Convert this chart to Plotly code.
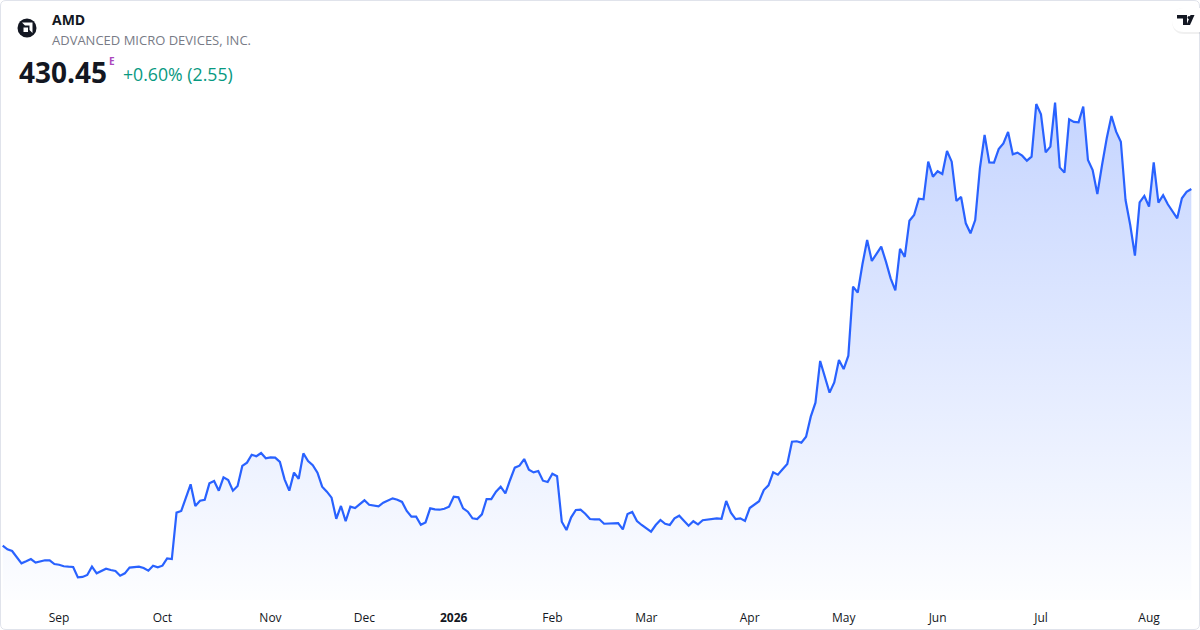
import plotly.graph_objects as go

# AMD daily closes (approx), one per trading day
close = [
    173.6, 171.0, 169.8, 165.5, 160.9, 162.4, 164.0, 161.4, 162.1, 163.1,
    163.1, 160.4, 159.9, 158.8, 158.5, 158.3, 150.8, 151.1, 152.5, 158.5,
    153.7, 155.4, 157.0, 156.1, 155.4, 152.0, 153.7, 157.8, 158.3, 158.5,
    157.5, 155.6, 159.2, 158.0, 159.2, 164.5, 164.0, 197.4, 198.6, 208.9,
    217.8, 202.2, 206.0, 206.7, 218.5, 220.2, 213.2, 222.8, 220.9, 213.2,
    216.6, 231.0, 233.4, 239.1, 238.0, 240.3, 236.5, 237.2, 237.0, 233.9,
    221.4, 213.2, 226.2, 221.8, 240.1, 234.6, 231.5, 226.2, 216.1, 212.5,
    208.2, 193.0, 202.2, 191.2, 201.7, 200.7, 203.6, 206.3, 203.1, 202.7,
    202.0, 204.6, 206.3, 207.7, 206.7, 205.1, 198.6, 194.5, 194.5, 188.7,
    190.4, 200.5, 199.8, 199.5, 200.2, 201.7, 208.9, 208.4, 200.5, 198.1,
    193.3, 192.8, 196.2, 207.2, 207.2, 212.5, 216.1, 211.3, 220.9, 229.8,
    231.2, 236.0, 228.3, 226.4, 227.4, 220.4, 219.5, 225.4, 223.6, 190.9,
    184.9, 194.0, 199.3, 199.5, 196.6, 192.8, 192.6, 192.6, 189.4, 189.4,
    189.7, 189.9, 185.4, 196.4, 197.9, 191.4, 188.5, 186.3, 183.7, 188.5,
    192.1, 189.4, 188.5, 193.3, 195.2, 191.6, 188.0, 191.2, 189.0, 191.9,
    192.3, 192.6, 193.3, 193.0, 205.8, 197.4, 192.8, 193.3, 191.4, 200.7,
    202.9, 205.6, 213.7, 217.1, 226.4, 224.7, 228.6, 232.4, 248.5, 248.8,
    247.8, 252.1, 266.5, 276.6, 306.6, 295.3, 283.8, 291.2, 307.3, 300.8,
    310.4, 360.1, 355.8, 376.2, 393.7, 378.6, 383.4, 388.9, 378.1, 366.1,
    357.5, 387.4, 381.5, 407.6, 411.7, 423.4, 423.0, 450.1, 439.3, 443.2,
    441.2, 457.8, 450.1, 421.8, 424.7, 405.7, 398.5, 408.1, 445.3, 469.3,
    449.6, 449.4, 459.2, 463.3, 471.5, 455.4, 456.6, 454.4, 450.8, 453.7,
    491.6, 484.2, 456.8, 460.9, 492.6, 446.0, 442.2, 480.6, 478.7, 478.4,
    489.7, 451.3, 444.1, 426.8, 447.7, 466.9, 483.0, 471.7, 464.5, 422.5,
    404.5, 382.4, 420.8, 425.4, 417.7, 449.6, 420.6, 425.9, 419.4, 414.1,
    409.3, 423.7, 428.3, 430.45,
]
days = list(range(len(close)))

# month labels and the trading-day index where each one sits
month_idx = [12, 34, 57, 77, 96, 117, 137, 159, 179, 199, 221, 244]
month_lbl = ["Sep", "Oct", "Nov", "Dec", "<b>2026</b>", "Feb", "Mar",
             "Apr", "May", "Jun", "Jul", "Aug"]

BLUE = "#2962FF"
W, H = 1200, 630
PH = 600  # plot height in px (bottom 30px holds the labels)


def px(x):
    return x / W


def py(y):
    return (PH - y) / PH


fig = go.Figure()
fig.add_trace(go.Scatter(
    x=days, y=close, mode="lines",
    line=dict(color=BLUE, width=2.2),
    fill="tozeroy",
    fillgradient=dict(type="vertical", start=134.5, stop=492.6,
                      colorscale=[[0, "rgba(41,98,255,0.01)"],
                                  [1, "rgba(41,98,255,0.27)"]]),
    hoverinfo="skip",
))

fig.update_xaxes(range=[-0.575, 254.85], showgrid=False, zeroline=False,
                 showline=False, tickmode="array", tickvals=month_idx,
                 ticktext=month_lbl, ticks="outside", ticklen=7,
                 tickcolor="rgba(0,0,0,0)",
                 tickfont=dict(family="Open Sans", size=12, color="#131722"))
fig.update_yaxes(range=[134.5, 566.5], visible=False)

# header text
ann = [
    dict(x=px(50), y=py(20), text="<b>AMD</b>",
         font=dict(family="Open Sans", size=14, color="#131722")),
    dict(x=px(50), y=py(40), text="ADVANCED MICRO DEVICES, INC.",
         font=dict(family="Open Sans", size=13, color="#787B86")),
    dict(x=px(17), y=py(72), text="<b>430.45</b>",
         font=dict(family="Open Sans", size=28, color="#131722")),
    dict(x=px(107), y=py(61), text="<b>E</b>",
         font=dict(family="Open Sans", size=10, color="#AB47BC")),
    dict(x=px(121), y=py(74), text="+0.60% (2.55)",
         font=dict(family="Open Sans", size=17.7, color="#089981")),
]
for a in ann:
    fig.add_annotation(xref="paper", yref="paper", xanchor="left",
                       yanchor="middle", showarrow=False, **a)


def path(points):
    return "M " + " L ".join(f"{px(x)},{py(y)}" for x, y in points) + " Z"


shapes = []
# outer border with rounded corners
r = 6
border = (f"M {px(r)},{py(0.5)} L {px(W - r)},{py(0.5)} "
          f"Q {px(W - 0.5)},{py(0.5)} {px(W - 0.5)},{py(r)} "
          f"L {px(W - 0.5)},{py(H - r)} Q {px(W - 0.5)},{py(H - 0.5)} {px(W - r)},{py(H - 0.5)} "
          f"L {px(r)},{py(H - 0.5)} Q {px(0.5)},{py(H - 0.5)} {px(0.5)},{py(H - r)} "
          f"L {px(0.5)},{py(r)} Q {px(0.5)},{py(0.5)} {px(r)},{py(0.5)} Z")
shapes.append(dict(type="path", path=border, line=dict(color="#E0E3EB", width=1)))

# AMD logo badge
shapes.append(dict(type="circle", x0=px(17.5), x1=px(36.5), y0=py(37.5), y1=py(18.5),
                   fillcolor="#131722", line_width=0))
shapes.append(dict(type="path", fillcolor="white", line_width=0,
                   path=path([(22, 22.5), (32.5, 22.5), (32.5, 33), (29.5, 30),
                              (29.5, 25.5), (25, 25.5)])))
shapes.append(dict(type="path", fillcolor="white", line_width=0,
                   path=path([(23.5, 27.5), (28, 27.5), (28, 32), (23.5, 32)])))

# TradingView pill, top right
pill = (f"M {px(1184)},{py(8)} L {px(1201)},{py(8)} L {px(1201)},{py(32)} "
        f"L {px(1184)},{py(32)} Q {px(1172)},{py(32)} {px(1172)},{py(20)} "
        f"Q {px(1172)},{py(8)} {px(1184)},{py(8)} Z")
shadow = pill.replace(f"{py(32)}", f"{py(34)}")
shapes.append(dict(type="path", path=shadow, fillcolor="rgba(0,0,0,0.06)", line_width=0))
shapes.append(dict(type="path", path=pill, fillcolor="white", line_width=0))
shapes.append(dict(type="path", fillcolor="#131722", line_width=0,
                   path=path([(1177, 15), (1187, 15), (1187, 25), (1183, 25),
                              (1183, 18.5), (1177, 18.5)])))
shapes.append(dict(type="circle", x0=px(1187.5), x1=px(1190.5), y0=py(19), y1=py(16),
                   fillcolor="#131722", line_width=0))
shapes.append(dict(type="path", fillcolor="#131722", line_width=0,
                   path=path([(1190.5, 15), (1194.5, 15), (1190, 25), (1186.5, 25)])))
for s in shapes:
    s.update(xref="paper", yref="paper", layer="above")

fig.update_layout(
    width=W, height=H,
    margin=dict(l=0, r=0, t=0, b=H - PH),
    paper_bgcolor="white", plot_bgcolor="white",
    showlegend=False, shapes=shapes,
)

fig.write_html("out.html", config={"displayModeBar": False},
               post_script="document.body.style.margin='0';")
